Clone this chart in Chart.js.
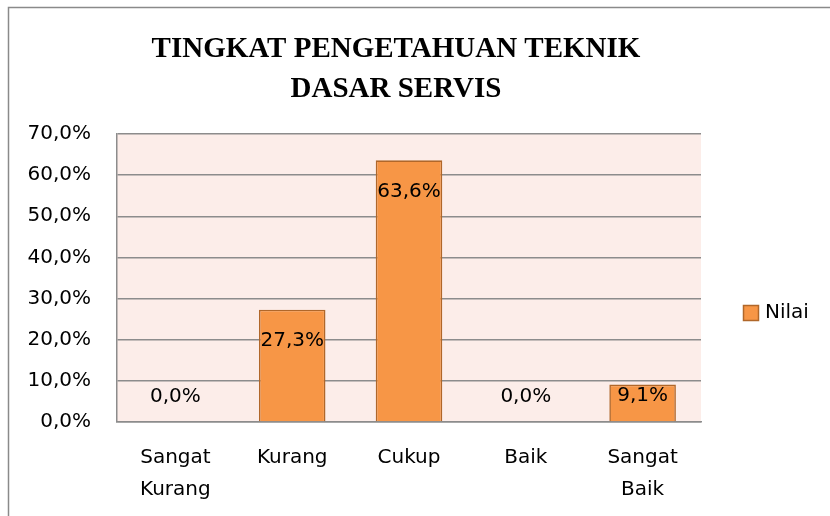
<!DOCTYPE html>
<html>
<head>
<meta charset="utf-8">
<script src="https://cdn.jsdelivr.net/npm/chart.js@4"></script>
<style>
  html, body { margin: 0; padding: 0; background: #fff; }
  #wrap { width: 830px; height: 516px; position: relative; }
</style>
</head>
<body>
<div id="wrap"><canvas id="nilaiChart" width="830" height="516"></canvas></div>
<script>
// data
const categories = [['Sangat', 'Kurang'], 'Kurang', 'Cukup', 'Baik', ['Sangat', 'Baik']];
const nilai = [0.0, 27.3, 63.6, 0.0, 9.1];
const seriesName = 'Nilai';
const titleLines = ['TINGKAT PENGETAHUAN TEKNIK', 'DASAR SERVIS'];
const yMin = 0, yMax = 70, yStep = 10;

const barFill = '#F79646';
const barBorder = '#B0672A';
const gridColor = '#8C8C8C';
const plotBg = '#FCEDE9';
const sansFont = '"DejaVu Sans", sans-serif';

function pct(v) {
    return v.toFixed(1).replace('.', ',') + '%';
}

// frame, plot background, title, legend and value labels
const decorations = {
    id: 'decorations',
    beforeDraw(chart) {
        const ctx = chart.ctx;
        const a = chart.chartArea;
        ctx.save();
        ctx.fillStyle = plotBg;
        ctx.fillRect(a.left, a.top, a.right - a.left, a.bottom - a.top);
        // outer frame of the chart object
        ctx.strokeStyle = '#8A8A8A';
        ctx.lineWidth = 1.5;
        ctx.beginPath();
        ctx.moveTo(8.5, chart.height + 2);
        ctx.lineTo(8.5, 7.5);
        ctx.lineTo(chart.width + 2, 7.5);
        ctx.stroke();
        ctx.restore();
    },
    afterDatasetsDraw(chart) {
        const ctx = chart.ctx;
        const meta = chart.getDatasetMeta(0);
        const data = chart.data.datasets[0].data;
        ctx.save();
        ctx.font = '20px ' + sansFont;
        ctx.fillStyle = '#000';
        ctx.textAlign = 'center';
        ctx.textBaseline = 'middle';
        meta.data.forEach((bar, i) => {
            const y = Math.min(bar.y + 31, bar.base - 25);
            ctx.fillText(pct(data[i]), bar.x, y);
        });
        ctx.restore();
    },
    afterDraw(chart) {
        const ctx = chart.ctx;
        ctx.save();
        // title
        ctx.font = 'bold 29px "Liberation Serif", "Times New Roman", serif';
        ctx.fillStyle = '#000';
        ctx.textAlign = 'center';
        ctx.textBaseline = 'alphabetic';
        titleLines.forEach((line, i) => {
            ctx.fillText(line, 396, 57 + i * 40);
        });
        // legend
        const ds = chart.data.datasets[0];
        ctx.fillStyle = ds.backgroundColor;
        ctx.strokeStyle = ds.borderColor;
        ctx.lineWidth = 1.5;
        ctx.fillRect(743.5, 305.5, 15, 15);
        ctx.strokeRect(743.5, 305.5, 15, 15);
        ctx.font = '20px ' + sansFont;
        ctx.fillStyle = '#000';
        ctx.textAlign = 'left';
        ctx.textBaseline = 'middle';
        ctx.fillText(ds.label, 765, 313);
        ctx.restore();
    }
};

const canvas = document.getElementById('nilaiChart');
new Chart(canvas.getContext('2d'), {
    type: 'bar',
    data: {
        labels: categories,
        datasets: [{
            label: seriesName,
            data: nilai,
            backgroundColor: barFill,
            borderColor: barBorder,
            borderWidth: 1.6,
            barPercentage: 0.57,
            categoryPercentage: 1.0
        }]
    },
    options: {
        responsive: false,
        animation: false,
        devicePixelRatio: 1,
        layout: {
            padding: { top: 134, right: 129, left: 0, bottom: 0 }
        },
        plugins: {
            legend: { display: false },
            title: { display: false },
            tooltip: { enabled: false }
        },
        scales: {
            x: {
                grid: { display: false, drawTicks: false },
                border: { display: true, color: gridColor, width: 1.5 },
                ticks: {
                    color: '#000',
                    font: { family: sansFont, size: 20, lineHeight: 1.6 },
                    padding: 20,
                    maxRotation: 0,
                    autoSkip: false
                },
                afterFit(scale) { scale.height = 94; }
            },
            y: {
                min: yMin,
                max: yMax,
                grid: { color: gridColor, lineWidth: 1.5, drawTicks: false },
                border: { display: true, color: gridColor, width: 1.5 },
                ticks: {
                    stepSize: yStep,
                    color: '#000',
                    font: { family: sansFont, size: 20 },
                    padding: 26,
                    callback: function(v) { return pct(v); }
                },
                afterFit(scale) { scale.width = 117; }
            }
        }
    },
    plugins: [decorations]
});
</script>
</body>
</html>
